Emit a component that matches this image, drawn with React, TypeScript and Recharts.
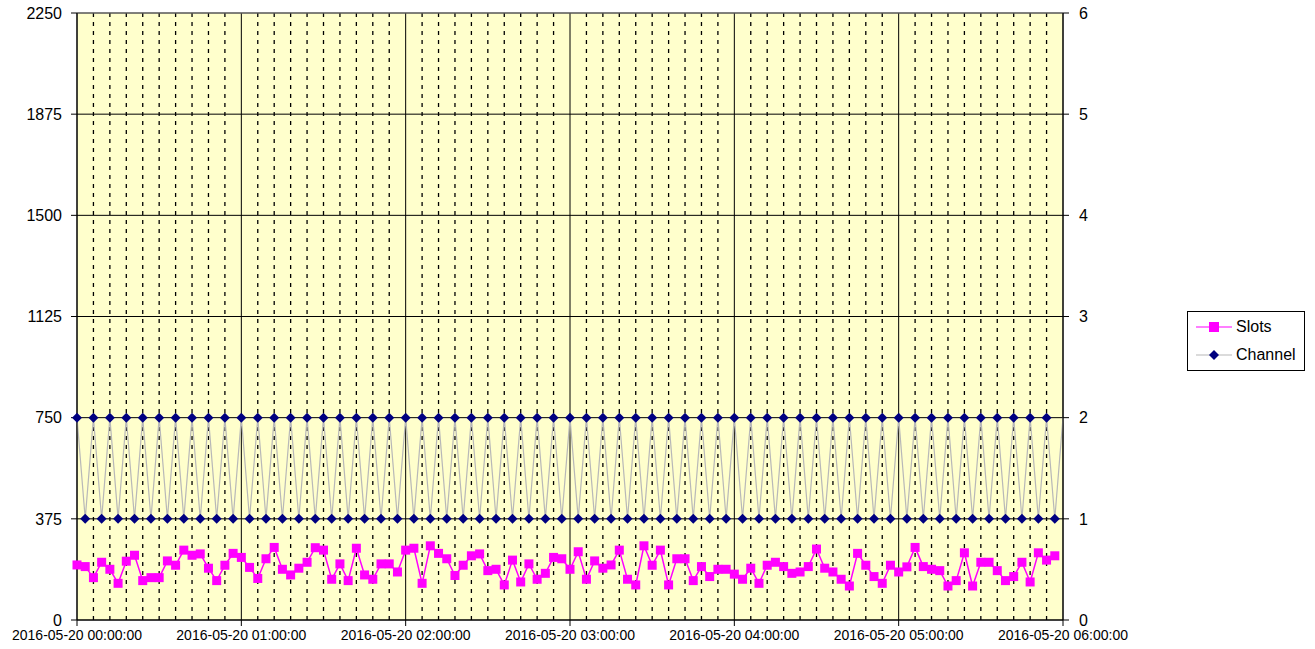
import {
  CartesianGrid,
  ComposedChart,
  Legend,
  Line,
  ReferenceLine,
  XAxis,
  YAxis,
} from "recharts";

const FONT = "'Liberation Sans', Arial, sans-serif";
const DAY = "2016-05-20";
const STEP_MIN = 3;

// slots per 3-minute sample (left axis); the 121st sample lies on 06:00 and has no reading
const slots: (number | null)[] = [
  204, 198, 157, 214, 188, 136, 218, 240, 146, 157,
  157, 219, 203, 259, 240, 245, 192, 146, 203, 247,
  232, 195, 154, 227, 269, 188, 167, 192, 214, 268,
  259, 151, 208, 146, 266, 167, 151, 208, 208, 178,
  259, 266, 136, 275, 247, 227, 165, 203, 238, 245,
  183, 188, 130, 222, 141, 208, 151, 173, 232, 227,
  188, 253, 151, 219, 192, 204, 259, 151, 130, 275,
  203, 259, 130, 227, 227, 146, 198, 161, 188, 188,
  170, 151, 192, 136, 203, 214, 198, 173, 178, 198,
  263, 192, 178, 151, 126, 247, 203, 161, 136, 203,
  178, 197, 269, 198, 188, 183, 126, 146, 249, 126,
  214, 214, 183, 146, 161, 214, 141, 249, 222, 238,
  null,
];

// channel per sample (right axis)
const channel: number[] = [
  2, 1, 2, 1, 2, 1, 2, 1, 2, 1, 2, 1, 2, 1, 2, 1, 2, 1, 2, 1,
  2, 1, 2, 1, 2, 1, 2, 1, 2, 1, 2, 1, 2, 1, 2, 1, 2, 1, 2, 1,
  2, 1, 2, 1, 2, 1, 2, 1, 2, 1, 2, 1, 2, 1, 2, 1, 2, 1, 2, 1,
  2, 1, 2, 1, 2, 1, 2, 1, 2, 1, 2, 1, 2, 1, 2, 1, 2, 1, 2, 1,
  2, 1, 2, 1, 2, 1, 2, 1, 2, 1, 2, 1, 2, 1, 2, 1, 2, 1, 2, 1,
  2, 1, 2, 1, 2, 1, 2, 1, 2, 1, 2, 1, 2, 1, 2, 1, 2, 1, 2, 1,
  2,
];

const hourTicks = [0, 60, 120, 180, 240, 300, 360];
const slotTicks = [0, 375, 750, 1125, 1500, 1875, 2250];
const channelTicks = [0, 1, 2, 3, 4, 5, 6];

// dashed gridlines every 6 minutes between the hours
const minorTicks: number[] = [];
for (let h = 0; h < 6; h++) {
  for (let k = 1; k < 10; k++) minorTicks.push(h * 60 + k * 6);
}

const rows = channel.map((c, i) => ({
  minute: i * STEP_MIN,
  slots: slots[i] ?? null,
  channel: c,
}));

const lastIndex = rows.length - 1;

function formatTime(m: number): string {
  return `${DAY} ${String(m / 60).padStart(2, "0")}:00:00`;
}

function SquareDot(props: any) {
  const { cx, cy, index, value } = props;
  if (value == null || cx == null || cy == null) return <g key={`s-${index}`} />;
  return (
    <rect
      key={`s-${index}`}
      x={cx - 4.5}
      y={cy - 4.5}
      width={9}
      height={9}
      fill="#FF00FF"
    />
  );
}

function DiamondDot(props: any) {
  const { cx, cy, index } = props;
  if (index === lastIndex || cx == null || cy == null) return <g key={`d-${index}`} />;
  return (
    <polygon
      key={`d-${index}`}
      points={`${cx},${cy - 5} ${cx + 5},${cy} ${cx},${cy + 5} ${cx - 5},${cy}`}
      fill="#000080"
    />
  );
}

function LegendBox() {
  const row = (label: string, color: string, marker: "square" | "diamond") => (
    <div style={{ display: "flex", alignItems: "center", height: 28 }}>
      <svg width={40} height={12} style={{ marginLeft: 8, marginRight: 0 }}>
        <line x1={0} y1={6} x2={36} y2={6} stroke={color} strokeWidth={1.2} />
        {marker === "square" ? (
          <rect x={13} y={1} width={10} height={10} fill="#FF00FF" />
        ) : (
          <polygon points="18,1 23,6 18,11 13,6" fill="#000080" />
        )}
      </svg>
      <span style={{ fontSize: 16, color: "#000", fontFamily: FONT }}>{label}</span>
    </div>
  );
  return (
    <div
      style={{
        width: 116,
        height: 57,
        border: "1px solid #000",
        background: "#fff",
        boxSizing: "content-box",
        paddingTop: 1,
      }}
    >
      {row("Slots", "#FF00FF", "square")}
      {row("Channel", "#B8B8B8", "diamond")}
    </div>
  );
}

export default function App() {
  return (
    <div
      style={{
        position: "absolute",
        left: 0,
        top: 0,
        width: 1315,
        height: 649,
        background: "#fff",
        fontFamily: FONT,
      }}
    >
      <ComposedChart
        width={1315}
        height={649}
        data={rows}
        margin={{ top: 13, right: 202, bottom: 4, left: 17 }}
      >
        <CartesianGrid
          stroke="#000"
          strokeWidth={1}
          fill="#FFFFCC"
          fillOpacity={1}
        />
        {minorTicks.map((m) => (
          <ReferenceLine
            key={`g-${m}`}
            x={m}
            stroke="#000"
            strokeWidth={1.3}
            strokeDasharray="4 5"
          />
        ))}
        <ReferenceLine y={2250} stroke="#808080" strokeWidth={1} />
        <XAxis
          dataKey="minute"
          type="number"
          domain={[0, 360]}
          ticks={hourTicks}
          interval={0}
          tickFormatter={formatTime}
          height={25}
          tickSize={6}
          tickMargin={4}
          stroke="#000"
          tick={{ fill: "#000", fontSize: 14, fontFamily: FONT }}
        />
        <YAxis
          domain={[0, 2250]}
          ticks={slotTicks}
          interval={0}
          width={60}
          tickSize={6}
          tickMargin={9}
          stroke="#000"
          tick={{ fill: "#000", fontSize: 16, fontFamily: FONT }}
        />
        <YAxis
          yAxisId="right"
          orientation="right"
          domain={[0, 6]}
          ticks={channelTicks}
          interval={0}
          width={50}
          tickSize={6}
          tickMargin={10}
          stroke="#000"
          tick={{ fill: "#000", fontSize: 16, fontFamily: FONT, textAnchor: "start" }}
        />
        <Legend
          align="center"
          verticalAlign="middle"
          layout="horizontal"
          wrapperStyle={{ left: 1187, top: 311, width: 118, height: 59 }}
          content={() => <LegendBox />}
        />
        <Line
          yAxisId="right"
          dataKey="channel"
          name="Channel"
          type="linear"
          stroke="#B8B8B8"
          strokeWidth={1.2}
          dot={DiamondDot}
          activeDot={false}
          isAnimationActive={false}
        />
        <Line
          dataKey="slots"
          name="Slots"
          type="linear"
          stroke="#FF00FF"
          strokeWidth={1.5}
          dot={SquareDot}
          activeDot={false}
          isAnimationActive={false}
        />
      </ComposedChart>
    </div>
  );
}
